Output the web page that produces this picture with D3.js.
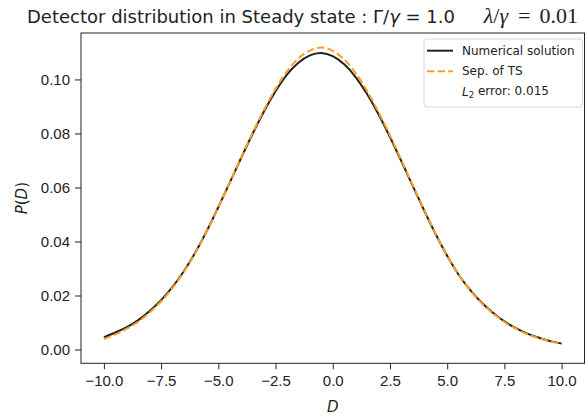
<!DOCTYPE html>
<html>
<head>
<meta charset="utf-8">
<script src="https://cdn.jsdelivr.net/npm/d3@7"></script>
<style>
  body { margin: 0; background: #fff; }
  svg { display: block; font-family: "DejaVu Sans", sans-serif; }
  .axis text { font-size: 15px; fill: #222; }
  .axis path, .axis line { stroke: #222; stroke-width: 1; }
</style>
</head>
<body>
<div id="chart"></div>
<script>
// Detector distribution in steady state, numerical vs separation of time scales

const detector = [-10, -9.5, -9, -8.5, -8, -7.5, -7, -6.5, -6, -5.5, -5, -4.5, -4, -3.5, -3, -2.5, -2, -1.5, -1, -0.5,
                  0, 0.5, 1, 1.5, 2, 2.5, 3, 3.5, 4, 4.5, 5, 5.5, 6, 6.5, 7, 7.5, 8, 8.5, 9, 9.5, 10];

const numerical = [0.0045, 0.0063, 0.0083, 0.0109, 0.0143, 0.0183, 0.0232, 0.0291, 0.0360, 0.0440, 0.0527,
                   0.0618, 0.0710, 0.0799, 0.0882, 0.0956, 0.1018, 0.1062, 0.1089, 0.1098,
                   0.1086, 0.1056, 0.1009, 0.0946, 0.0871, 0.0787, 0.0697, 0.0605, 0.0514, 0.0427,
                   0.0347, 0.0277, 0.0221, 0.0174, 0.0136, 0.0104, 0.0079, 0.0059, 0.0044, 0.0031, 0.0022];

const sepTS = [0.0039, 0.0056, 0.0077, 0.0103, 0.0137, 0.0178, 0.0228, 0.0288, 0.0358, 0.0439, 0.0527,
               0.0619, 0.0712, 0.0803, 0.0888, 0.0965, 0.1030, 0.1078, 0.1107, 0.1118,
               0.1106, 0.1074, 0.1024, 0.0957, 0.0879, 0.0793, 0.0701, 0.0608, 0.0516, 0.0428,
               0.0347, 0.0277, 0.0220, 0.0172, 0.0134, 0.0102, 0.0077, 0.0057, 0.0042, 0.0030, 0.0020];

const xTicks = [-10, -7.5, -5, -2.5, 0, 2.5, 5, 7.5, 10];
const yTicks = [0, 0.02, 0.04, 0.06, 0.08, 0.10];
const l2Error = "0.015";

let margin = {top: 33, right: 2.5, bottom: 56.7, left: 81},
    fullWidth = 587, fullHeight = 420,
    width = fullWidth - margin.left - margin.right,
    height = fullHeight - margin.top - margin.bottom;

let x = d3.scaleLinear().domain([-11, 11]).range([0, width]);
let y = d3.scaleLinear().domain([-0.0051, 0.1172]).range([height, 0]);

let svg = d3.select("#chart").append("svg")
    .attr("width", fullWidth)
    .attr("height", fullHeight);

let g = svg.append("g")
    .attr("transform", "translate(" + margin.left + "," + margin.top + ")");

let xAxis = d3.axisBottom(x).tickValues(xTicks).tickFormat(d3.format(".1f")).tickSize(6).tickPadding(6);
let yAxis = d3.axisLeft(y).tickValues(yTicks).tickFormat(d3.format(".2f")).tickSize(6).tickPadding(5);

g.append("g")
    .attr("class", "x axis")
    .attr("transform", "translate(0," + height + ")")
    .call(xAxis)
    .call(a => a.select(".domain").remove());

g.append("g")
    .attr("class", "y axis")
    .call(yAxis)
    .call(a => a.select(".domain").remove());

// frame
g.append("rect")
    .attr("width", width)
    .attr("height", height)
    .attr("fill", "none")
    .attr("stroke", "#222")
    .attr("stroke-width", 1);

let line = function (values) {
    return d3.line()
        .x((d, i) => x(detector[i]))
        .y(d => y(d))
        .curve(d3.curveNatural)(values);
};

g.append("path")
    .attr("d", line(numerical))
    .attr("fill", "none")
    .attr("stroke", "#222")
    .attr("stroke-width", 2);

g.append("path")
    .attr("d", line(sepTS))
    .attr("fill", "none")
    .attr("stroke", "#ffa020")
    .attr("stroke-width", 2)
    .attr("stroke-dasharray", "7.4,3.2");

// axis labels
g.append("text")
    .attr("x", width / 2)
    .attr("y", height + 49)
    .attr("text-anchor", "middle")
    .style("font-size", "15px")
    .style("font-style", "italic")
    .attr("fill", "#222")
    .text("D");

g.append("text")
    .attr("transform", "rotate(-90)")
    .attr("x", -height / 2)
    .attr("y", -54)
    .attr("text-anchor", "middle")
    .style("font-size", "15px")
    .attr("fill", "#222")
    .call(t => {
        t.append("tspan").style("font-style", "italic").text("P");
        t.append("tspan").text("(");
        t.append("tspan").style("font-style", "italic").text("D");
        t.append("tspan").text(")");
    });

// title
let title = svg.append("text")
    .attr("x", 27)
    .attr("y", 23)
    .attr("fill", "#222")
    .style("font-size", "18px");
title.append("tspan").text("Detector distribution in Steady state : Γ/");
title.append("tspan").style("font-style", "italic").text("γ");
title.append("tspan").text(" = 1.0");

let title2 = svg.append("text")
    .attr("x", 578)
    .attr("y", 23)
    .attr("text-anchor", "end")
    .attr("fill", "#222")
    .style("font-family", "'Liberation Serif', serif")
    .style("font-size", "22px");
title2.append("tspan").style("font-style", "italic").text("λ");
title2.append("tspan").text("/");
title2.append("tspan").style("font-style", "italic").text("γ");
title2.append("tspan").attr("dx", 10).text("=");
title2.append("tspan").attr("dx", 9).text("0.01");

// legend
let legend = svg.append("g").attr("transform", "translate(424,39)");
legend.append("rect")
    .attr("width", 158.5)
    .attr("height", 68)
    .attr("rx", 3)
    .attr("fill", "#fff")
    .attr("fill-opacity", 0.8)
    .attr("stroke", "#d5d5d5");

let entries = [
    {label: "Numerical solution", color: "#222", dash: null},
    {label: "Sep. of TS", color: "#ffa020", dash: "7.4,3.2"},
    {label: null, color: null, dash: null}
];

let rows = legend.selectAll(".legend")
    .data(entries)
    .enter().append("g")
    .attr("class", "legend")
    .attr("transform", (d, i) => "translate(0," + (11.7 + i * 20.5) + ")");

rows.filter(d => d.color).append("line")
    .attr("x1", 3).attr("x2", 29)
    .attr("stroke", d => d.color)
    .attr("stroke-width", 2)
    .attr("stroke-dasharray", d => d.dash);

rows.append("text")
    .attr("x", 38)
    .attr("dy", "0.35em")
    .attr("fill", "#222")
    .style("font-size", "12px")
    .each(function (d) {
        let t = d3.select(this);
        if (d.label) {
            t.text(d.label);
        } else {
            t.append("tspan").style("font-style", "italic").text("L");
            t.append("tspan").attr("dy", "0.25em").style("font-size", "8.5px").text("2");
            t.append("tspan").attr("dy", "-0.25em").text(" error: " + l2Error);
        }
    });
</script>
</body>
</html>
